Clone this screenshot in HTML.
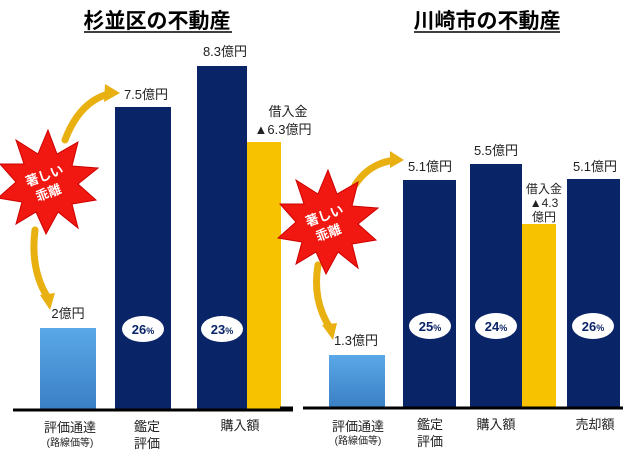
<!DOCTYPE html>
<html><head><meta charset="utf-8"><style>
body{margin:0;background:#fff;width:640px;height:454px;overflow:hidden}
text{font-family:"Liberation Sans","Noto Sans CJK JP",sans-serif}
</style></head><body>
<svg width="640" height="454" viewBox="0 0 640 454">
<defs>
<linearGradient id="lb" x1="0" y1="0" x2="0" y2="1"><stop offset="0" stop-color="#5aa8e8"/><stop offset="1" stop-color="#3a7fc4"/></linearGradient>
<marker id="ah" markerWidth="6" markerHeight="6" refX="3" refY="3" orient="auto"><path d="M0,0 L6,3 L0,6 Z" fill="#e8b010"/></marker>
</defs>
<!-- titles -->
<text x="157" y="28" font-size="21" font-weight="bold" text-anchor="middle">杉並区の不動産</text>
<line x1="84" y1="32" x2="232" y2="32" stroke="#000" stroke-width="1.5"/>
<text x="487" y="28" font-size="21" font-weight="bold" text-anchor="middle">川崎市の不動産</text>
<line x1="414" y1="32" x2="560" y2="32" stroke="#000" stroke-width="1.5"/>

<!-- left chart -->
<rect x="40" y="328" width="56" height="82" fill="url(#lb)"/>
<rect x="115" y="107" width="56" height="303" fill="#0a2468"/>
<rect x="197" y="66" width="50" height="344" fill="#0a2468"/>
<rect x="247" y="142" width="34" height="268" fill="#f7c300"/>
<line x1="13" y1="410" x2="293" y2="410" stroke="#000" stroke-width="3"/>
<ellipse cx="143" cy="329" rx="21" ry="13" fill="#fff"/>
<text x="143" y="334" font-size="13" font-weight="bold" text-anchor="middle" fill="#0a2468">26<tspan font-size="9">%</tspan></text>
<ellipse cx="222" cy="329" rx="21" ry="13" fill="#fff"/>
<text x="222" y="334" font-size="13" font-weight="bold" text-anchor="middle" fill="#0a2468">23<tspan font-size="9">%</tspan></text>
<g font-size="13" fill="#222" text-anchor="middle">
<text x="68" y="318">2億円</text>
<text x="146" y="99">7.5億円</text>
<text x="225" y="56">8.3億円</text>
<text x="288" y="116">借入金</text>
<text x="283" y="134">▲6.3億円</text>
<text x="70" y="432">評価通達</text>
<text x="70" y="446" font-size="10">(路線価等)</text>
<text x="147" y="431">鑑定</text>
<text x="147" y="448">評価</text>
<text x="240" y="430">購入額</text>
</g>
<!-- right chart -->
<rect x="329" y="355" width="56" height="53" fill="url(#lb)"/>
<rect x="403" y="180" width="53" height="228" fill="#0a2468"/>
<rect x="470" y="164" width="52" height="244" fill="#0a2468"/>
<rect x="522" y="224" width="34" height="184" fill="#f7c300"/>
<rect x="567" y="179" width="53" height="229" fill="#0a2468"/>
<line x1="303" y1="408" x2="623" y2="408" stroke="#000" stroke-width="3"/>
<line x1="280" y1="408" x2="293" y2="408" stroke="#000" stroke-width="3"/>
<ellipse cx="430" cy="326" rx="21" ry="13" fill="#fff"/>
<text x="430" y="331" font-size="13" font-weight="bold" text-anchor="middle" fill="#0a2468">25<tspan font-size="9">%</tspan></text>
<ellipse cx="496" cy="326" rx="21" ry="13" fill="#fff"/>
<text x="496" y="331" font-size="13" font-weight="bold" text-anchor="middle" fill="#0a2468">24<tspan font-size="9">%</tspan></text>
<ellipse cx="593" cy="326" rx="21" ry="13" fill="#fff"/>
<text x="593" y="331" font-size="13" font-weight="bold" text-anchor="middle" fill="#0a2468">26<tspan font-size="9">%</tspan></text>
<g font-size="13" fill="#222" text-anchor="middle">
<text x="356" y="345">1.3億円</text>
<text x="430" y="171">5.1億円</text>
<text x="496" y="155">5.5億円</text>
<text x="595" y="171">5.1億円</text>
<text x="544" y="193" font-size="12">借入金</text>
<text x="544" y="207" font-size="12">▲4.3</text>
<text x="544" y="221" font-size="12">億円</text>
<text x="358" y="431">評価通達</text>
<text x="358" y="444" font-size="10">(路線価等)</text>
<text x="430" y="429">鑑定</text>
<text x="430" y="446">評価</text>
<text x="496" y="429">購入額</text>
<text x="595" y="429">売却額</text>
</g>
<!-- arrows -->
<g fill="none" stroke="#e8b010" stroke-width="7" stroke-linecap="round">
<path d="M65,140 Q80,100 112,93"/>
<path d="M35,230 Q30,270 48,298"/>
<path d="M355,185 Q370,162 397,160"/>
<path d="M318,265 Q312,300 330,328"/>
</g>
<path d="M105,84 L120,93 L104,102 Z" fill="#e8b010"/>
<path d="M40,295 L55,293 L50,310 Z" fill="#e8b010"/>
<path d="M390,151 L404,160 L390,168 Z" fill="#e8b010"/>
<path d="M322,325 L337,323 L333,340 Z" fill="#e8b010"/>
<!-- starbursts -->
<g fill="#f01810" stroke="#c00" stroke-width="1">
<polygon transform="translate(48,182)" points="0,-52 9,-28 30,-40 24,-16 50,-14 30,2 48,18 24,22 30,46 10,30 -2,52 -12,30 -32,42 -26,20 -50,16 -32,0 -48,-18 -24,-18 -32,-42 -10,-28"/>
<polygon transform="translate(328,222)" points="0,-52 9,-28 30,-40 24,-16 50,-14 30,2 48,18 24,22 30,46 10,30 -2,52 -12,30 -32,42 -26,20 -50,16 -32,0 -48,-18 -24,-18 -32,-42 -10,-28"/>
</g>
<g fill="#fff" font-size="13" font-weight="bold" text-anchor="middle">
<text x="46" y="180" transform="rotate(-20 46 180)">著しい</text>
<text x="50" y="197" transform="rotate(-20 50 197)">乖離</text>
<text x="326" y="220" transform="rotate(-20 326 220)">著しい</text>
<text x="330" y="237" transform="rotate(-20 330 237)">乖離</text>
</g>
</svg>
</body></html>
